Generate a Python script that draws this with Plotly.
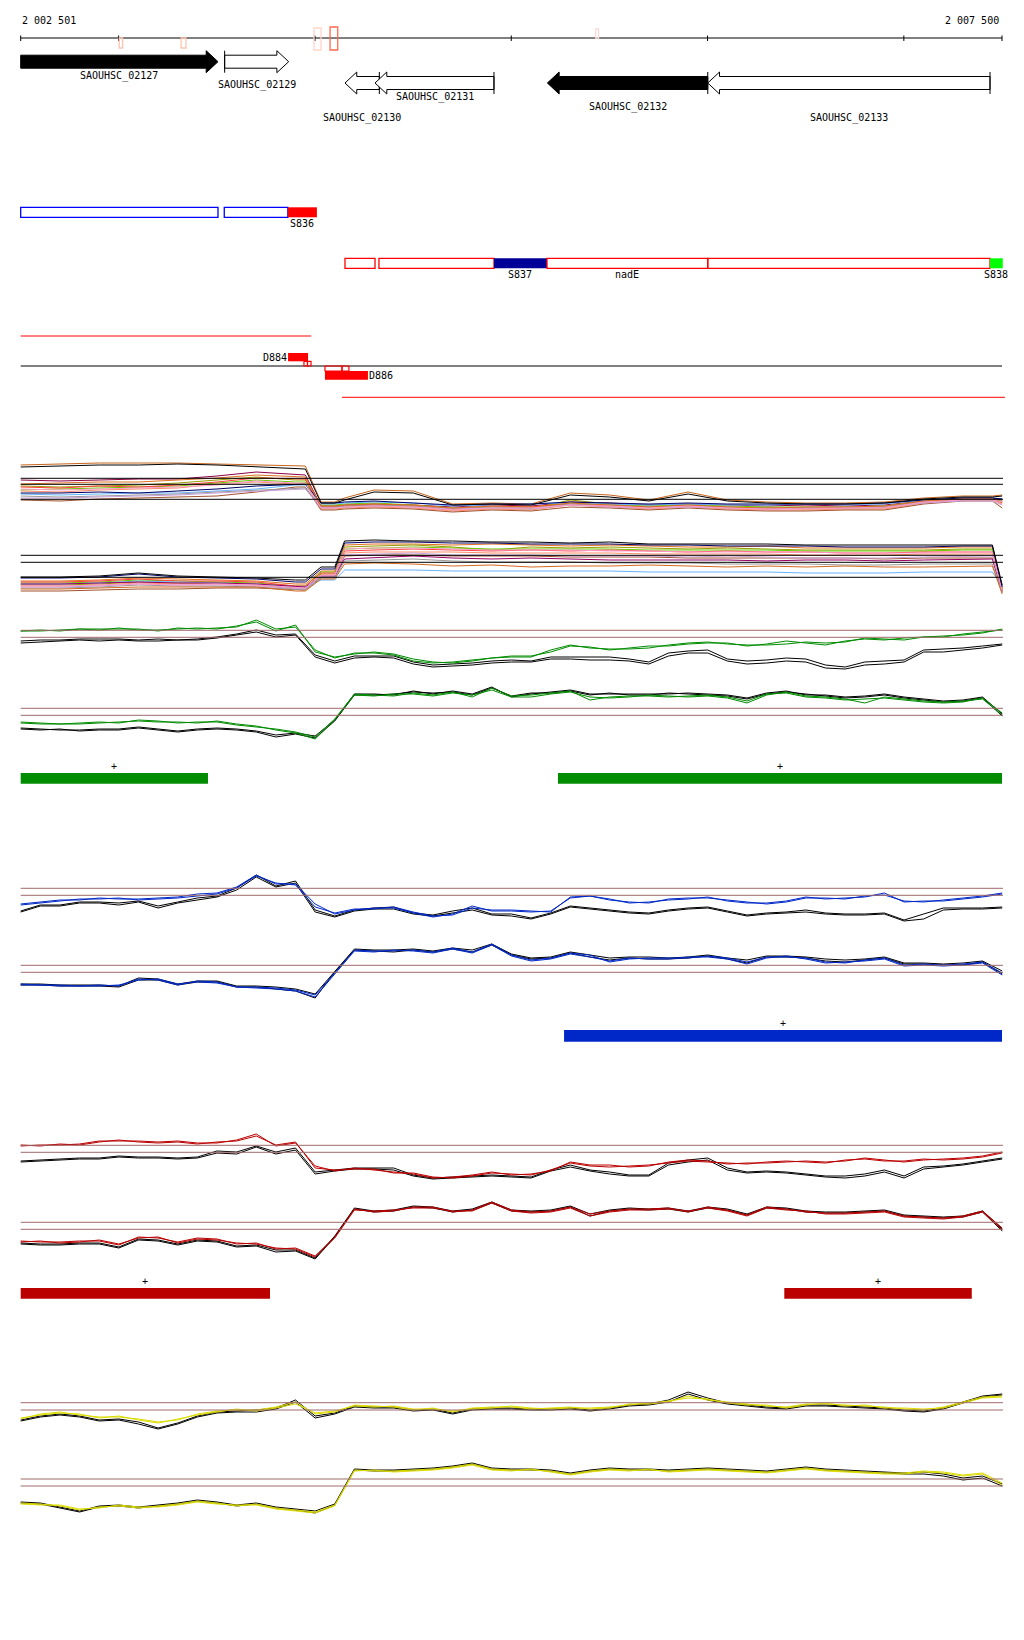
import plotly.graph_objects as go

# ---------------- genome window ----------------
START, END = 2002501, 2007500
W, H = 1024, 1640          # page / reference size
OFF = 8                    # default page margin of the html body
FW, FH = W - 2 * OFF, H - 2 * OFF
PX0, PX1 = 20.7, 1002.0
SCALE = (PX1 - PX0) / (END - START)
X_RANGE = [START - (PX0 - OFF) / SCALE, END + (OFF + FW - PX1) / SCALE]

RULER_TICKS = [2002501, 2003000, 2004000, 2005000, 2006000, 2007000, 2007500]
RULER_LABELS = ["2 002 501", "2 007 500"]
MARK_START = [2003003, 2003318, 2003995, 2004077, 2005430]
MARK_END = [2003020, 2003343, 2004031, 2004116, 2005445]

# ---------------- genes ----------------
GENE_NAMES = ["SAOUHSC_02127", "SAOUHSC_02129", "SAOUHSC_02130",
              "SAOUHSC_02131", "SAOUHSC_02132", "SAOUHSC_02133"]
GENE_START = [2002501, 2003540, 2004153, 2004306, 2005184, 2006001]
GENE_END = [2003506, 2003866, 2004328, 2004912, 2006001, 2007439]
GENE_STRAND = ["+", "+", "-", "-", "-", "-"]

# ---------------- segments ----------------
SEG_START = [2002501, 2003538, 2003862, 2004153, 2004326, 2004912, 2005182, 2006001, 2007439]
SEG_END = [2003506, 2003862, 2004010, 2004306, 2004912, 2005182, 2006001, 2007439, 2007504]
SEG_NAME = ["", "", "S836", "", "", "S837", "nadE", "", "S838"]

D_START = [2003863, 2004051]
D_END = [2003965, 2004270]
D_NAME = ["D884", "D886"]

# ---------------- probe grids ----------------
POS100 = list(range(2002501, 2007502, 100))
POS_MC = [2002501, 2002701, 2002901, 2003101, 2003301, 2003501, 2003701, 2003901,
          2003951, 2004031, 2004101, 2004151,
          2004301, 2004501, 2004701, 2004901, 2005101, 2005301, 2005501, 2005701,
          2005901, 2006101, 2006301, 2006501, 2006701, 2006901, 2007101, 2007301,
          2007451, 2007501]

# ---------------- multi-colour panel ----------------
MC_TOP = [
    [55,56,57,57,57,56,55,54,54,18,18,22,30,29,16,17,16,27,25,20,28,20,18,17,17,18,22,24,24,25],
    [40,39,40,41,41,44,48,45,45,14,14,15,16,15,13,15,14,18,17,15,16,15,14,15,14,15,19,22,22,20],
    [34,33,34,35,37,40,43,40,40,12,12,13,14,13,10,12,11,20,16,13,15,13,12,11,12,12,18,20,20,18],
    [30,31,32,33,34,37,40,38,38,15,15,16,17,15,12,13,12,17,15,14,15,14,13,13,13,14,19,21,21,19],
    [33,32,34,33,35,38,42,41,41,13,13,14,15,14,11,14,13,16,14,12,14,12,11,12,12,13,18,21,21,17],
    [29,28,30,31,32,36,38,36,36,11,11,12,13,12,9,11,10,15,13,11,13,11,10,10,11,11,17,20,20,16],
    [20,19,21,22,23,24,28,33,33,10,10,11,12,11,8,10,9,13,12,10,12,10,9,9,10,10,16,19,19,12],
    [26,25,26,27,27,29,31,35,35,16,16,17,18,17,14,15,16,17,16,15,16,15,15,16,15,16,20,22,22,21],
    [27,27,28,27,29,31,34,36,36,17,17,18,19,17,15,16,16,18,17,16,17,16,16,16,16,17,20,22,22,21],
    [24,23,24,25,26,28,30,32,32,13,13,14,15,14,12,13,12,16,15,13,14,13,12,13,13,14,18,20,20,19],
    [22,22,23,24,25,27,29,31,31,12,12,13,14,13,11,12,11,15,13,12,13,12,11,12,12,13,17,19,19,15],
    [36,37,38,38,40,42,45,43,43,14,14,15,16,15,12,14,13,17,15,13,15,13,12,13,13,14,19,21,21,18],
    [31,30,31,32,33,35,39,37,37,12,12,13,14,13,10,12,12,15,14,12,14,12,11,11,12,12,18,20,20,18],
    [53,54,55,55,56,55,53,51,51,17,17,20,28,27,15,16,15,25,23,19,26,19,17,16,16,17,21,23,23,24],
]
MC_BOT = [
    [19,19,20,22,21,20,19,16,16,29,29,55,56,56,55,56,55,54,55,54,53,53,54,52,52,52,52,53,53,12],
    [15,15,16,18,17,17,16,12,12,26,26,53,54,55,53,50,53,52,53,52,51,52,51,50,50,50,50,51,51,10],
    [17,17,18,20,19,18,17,14,14,28,28,51,52,53,52,51,51,51,51,50,50,50,50,49,49,49,49,50,50,11],
    [18,18,19,21,19,19,18,14,14,27,27,49,50,51,50,49,50,49,50,49,48,49,48,48,47,47,48,48,48,11],
    [14,14,15,17,16,16,15,11,11,25,25,47,48,48,48,47,47,47,47,46,46,46,46,45,45,45,46,46,46,9],
    [9,9,10,11,11,12,12,10,10,23,23,44,45,45,44,44,44,43,43,43,42,42,42,42,42,41,42,42,42,8],
    [16,16,17,19,18,17,16,13,13,20,20,30,30,30,29,29,29,29,29,28,28,28,28,27,27,27,28,28,28,14],
    [16,16,17,18,17,17,16,13,13,24,24,41,42,44,42,41,42,41,40,40,40,40,39,40,40,39,40,41,41,9],
    [12,12,13,15,14,14,13,10,10,22,22,39,40,41,39,38,38,38,37,37,37,36,36,36,35,35,36,36,36,7],
    [13,13,14,16,15,15,14,11,11,24,24,45,46,47,45,45,45,44,44,44,43,44,43,42,42,42,43,44,44,9],
    [11,11,12,13,13,13,13,9,9,21,21,36,37,36,34,35,33,34,34,35,34,33,34,33,34,33,33,34,34,6],
    [14,14,15,16,15,16,15,12,12,25,25,51,52,52,51,50,50,50,49,49,48,48,48,48,47,47,47,48,48,10],
    [22,22,23,26,23,22,21,18,18,31,31,57,58,58,57,57,56,56,56,55,55,54,54,54,53,53,53,54,54,13],
    [23,23,24,27,24,23,22,20,20,33,33,59,60,59,59,58,58,57,58,56,56,56,56,55,55,55,55,55,55,15],
]
MC_TOP_THRESH = [41.7, 35.7, 20.7]
MC_BOT_THRESH = [44.7, 37.7, 22.7]

# ---------------- green panel ----------------
GREEN_TOP_C1 = [49,49,50,51,51,51,51,49,52,51,52,53,60,51,53,30,22,27,27,25,19,17,18,20,22,23,23,30,35,32,31,31,32,35,37,38,36,35,35,36,38,37,38,42,41,40,43,44,45,47,51]
GREEN_TOP_C2 = [49,50,49,51,50,52,50,50,51,52,51,54,58,49,55,28,23,26,28,26,21,18,17,19,22,24,24,28,34,33,30,32,34,34,36,37,37,34,36,39,37,35,39,41,40,42,43,43,46,48,50]
GREEN_TOP_K1 = [39,40,40,41,41,41,40,41,40,41,43,46,50,45,46,25,19,24,24,24,18,15,16,17,19,20,19,23,23,23,23,21,18,27,29,30,21,19,20,22,21,15,13,18,19,20,30,31,32,34,36]
GREEN_TOP_K2 = [37,38,39,40,39,40,39,39,40,40,42,45,48,43,45,23,17,22,23,22,16,13,14,15,17,18,18,21,21,20,20,19,16,24,27,27,19,16,17,19,18,12,11,15,16,18,28,28,30,32,35]
GREEN_BOT_C1 = [37,36,36,37,38,37,40,39,37,38,38,35,33,31,28,23,41,66,65,64,67,65,68,63,72,64,65,67,69,60,63,64,64,63,64,65,63,59,66,67,63,62,60,61,62,60,58,57,58,62,47]
GREEN_BOT_C2 = [38,37,36,36,37,38,39,38,38,37,39,36,34,30,27,21,40,65,64,66,66,64,67,65,70,63,63,66,68,63,62,63,65,64,63,64,62,57,65,68,64,63,61,57,63,61,59,58,59,61,45]
GREEN_BOT_K1 = [32,31,30,30,31,31,33,31,29,31,32,31,29,25,27,24,40,66,66,65,69,66,69,66,73,63,66,68,70,66,66,66,66,66,67,66,65,62,67,69,65,65,63,64,66,63,61,59,60,63,46]
GREEN_BOT_K2 = [31,30,31,29,30,30,32,30,28,30,31,30,28,23,26,22,39,65,65,66,68,67,68,65,72,64,67,67,69,65,67,65,65,67,66,65,64,61,66,68,66,64,62,63,65,62,60,58,59,62,44]
GREEN_THRESH_TOP = [49.7, 42.7]
GREEN_THRESH_BOT = [51.7, 44.7]
GREEN_BAR_START = [2002501, 2005238]
GREEN_BAR_END = [2003455, 2007500]

# ---------------- blue panel ----------------
BLUE_TOP_C1 = [36,38,40,40,42,41,41,42,43,46,47,53,65,56,56,36,26,30,32,32,27,23,26,34,29,29,28,29,42,44,41,37,38,40,41,43,39,37,37,39,43,41,42,43,47,38,39,39,41,43,46]
BLUE_TOP_C2 = [35,37,39,41,41,42,40,41,42,44,46,52,64,57,55,33,27,31,31,33,28,24,25,32,30,30,29,28,43,44,40,38,37,41,42,42,40,38,36,38,42,42,41,44,45,39,38,40,42,44,47]
BLUE_TOP_K1 = [29,35,35,38,38,37,39,34,38,42,44,52,65,54,59,30,24,30,32,33,27,25,29,32,26,26,22,27,34,32,30,28,27,30,32,33,29,25,27,28,30,27,26,26,27,20,26,32,32,32,33]
BLUE_TOP_K2 = [28,34,34,37,37,35,38,32,37,40,43,50,63,53,57,28,23,29,31,31,26,24,27,30,25,24,21,26,33,31,29,27,26,29,31,32,28,24,26,27,28,26,25,25,26,19,21,30,31,31,32]
BLUE_BOT_C1 = [36,35,35,34,35,34,41,40,35,39,38,33,33,32,30,25,47,70,69,69,70,68,72,68,76,65,60,62,67,65,58,61,62,62,62,64,62,58,63,63,62,58,57,60,62,55,56,55,56,58,47]
BLUE_BOT_C2 = [35,35,34,34,34,35,40,41,36,38,37,33,32,31,29,23,46,69,68,70,69,67,71,67,75,64,59,61,66,63,59,62,61,61,63,63,61,56,62,64,61,57,58,59,61,54,55,54,55,57,45]
BLUE_BOT_K1 = [36,36,35,35,35,34,42,41,36,39,39,34,34,33,31,26,49,71,70,70,71,69,72,70,76,66,62,63,68,65,62,63,63,62,63,65,62,60,64,64,63,61,60,61,63,57,57,56,57,59,49]
BLUE_BOT_K2 = [35,35,34,34,34,33,40,40,35,38,38,33,33,31,29,22,48,70,69,68,70,68,71,68,75,65,61,62,67,63,60,62,61,61,62,64,61,57,63,63,62,59,58,60,62,56,56,55,55,58,46]
BLUE_THRESH_TOP = [51.7, 44.7]
BLUE_THRESH_BOT = [54.7, 47.7]
BLUE_BAR_START = [2005269]
BLUE_BAR_END = [2007500]

# ---------------- red panel ----------------
RED_TOP_C1 = [54,55,55,56,59,59,59,58,59,57,57,60,66,54,57,34,29,32,30,28,26,22,23,25,28,25,26,29,38,35,35,33,34,38,40,39,36,37,37,38,39,38,39,42,40,38,40,41,42,44,48]
RED_TOP_C2 = [55,54,56,55,58,60,58,57,58,56,58,59,64,55,58,32,30,31,31,27,27,23,22,24,27,26,25,30,37,34,33,34,35,37,39,38,37,36,38,39,38,37,40,41,39,39,41,40,41,43,47]
RED_TOP_K1 = [39,40,41,42,42,44,43,43,42,43,49,48,54,48,52,28,30,32,32,32,25,22,23,24,25,24,23,30,35,30,28,25,25,37,40,42,32,28,29,28,26,24,24,26,30,24,33,34,36,39,42]
RED_TOP_K2 = [38,39,40,41,41,43,42,42,41,42,47,46,53,46,50,26,29,31,31,30,24,21,22,23,24,23,22,29,33,29,26,24,24,35,38,40,30,27,28,27,25,23,22,24,28,22,31,33,35,38,41]
RED_BOT_C1 = [39,38,38,39,39,35,43,42,38,42,41,36,37,31,32,24,43,71,68,69,73,73,68,70,78,70,68,69,73,66,69,71,71,72,68,73,70,65,73,71,68,67,67,68,69,64,63,62,64,69,52]
RED_BOT_C2 = [38,39,37,38,40,36,42,43,37,41,40,37,36,32,31,23,42,70,69,70,72,72,69,69,77,69,67,68,72,64,68,70,70,71,69,72,69,64,72,70,69,66,66,67,68,63,62,61,63,68,50]
RED_BOT_K1 = [37,36,36,37,37,33,41,40,36,40,39,34,35,30,30,22,44,72,69,70,74,73,69,71,78,70,69,70,74,66,70,72,71,72,69,73,71,66,73,72,69,68,68,69,70,65,64,63,64,69,51]
RED_BOT_K2 = [36,35,35,36,36,32,40,39,35,39,38,33,34,28,29,21,43,71,68,69,73,72,68,70,77,69,68,69,73,64,69,71,70,71,68,72,70,65,72,71,68,67,67,68,69,64,63,62,63,68,49]
RED_THRESH_TOP = [54.7, 47.7]
RED_THRESH_BOT = [57.7, 50.7]
RED_BAR_START = [2002501, 2006391]
RED_BAR_END = [2003771, 2007346]

# ---------------- yellow panel ----------------
YEL_TOP_C1 = [41,46,48,45,43,43,41,38,40,46,49,50,50,53,58,46,48,55,54,53,50,52,48,52,53,53,51,52,53,51,52,56,56,58,64,60,58,56,54,53,56,56,55,54,53,51,50,53,58,63,64]
YEL_TOP_C2 = [42,45,47,46,42,44,40,37,41,45,48,51,49,52,56,47,49,54,53,54,51,51,49,51,52,54,52,51,52,52,53,55,57,59,62,61,57,55,55,52,55,57,54,55,52,52,51,52,57,62,63]
YEL_TOP_K1 = [40,44,46,44,40,41,38,32,37,44,48,49,50,52,60,44,47,54,53,53,50,51,47,51,52,52,51,51,52,50,52,55,56,60,68,62,57,55,53,52,55,55,54,53,52,50,49,52,58,64,66]
YEL_TOP_K2 = [39,43,45,43,39,40,36,31,36,43,47,48,48,51,58,42,46,53,52,52,49,50,46,50,51,51,50,50,51,49,51,54,55,58,66,60,56,54,52,51,54,54,53,52,51,49,48,51,57,63,65]
YEL_BOT_C1 = [37,36,34,30,33,34,32,34,36,39,37,34,36,32,30,28,35,70,69,69,70,71,73,76,71,70,70,69,66,69,71,70,70,69,70,71,70,69,68,70,72,70,69,68,67,67,69,68,65,67,57]
YEL_BOT_C2 = [36,35,35,31,32,35,33,33,35,38,36,35,35,31,29,27,34,69,70,68,69,70,72,75,70,69,71,68,65,68,70,69,71,68,69,70,69,68,67,69,71,69,68,67,66,66,68,67,64,66,55]
YEL_BOT_K1 = [38,37,33,29,34,35,33,35,37,40,38,35,37,33,31,29,36,71,70,70,71,72,74,77,72,71,71,70,67,70,72,71,71,70,71,72,71,70,69,71,73,71,70,69,68,67,68,66,62,64,56]
YEL_BOT_K2 = [37,36,32,28,33,34,32,34,36,39,37,34,36,32,30,27,35,70,69,69,70,71,73,76,71,70,70,69,66,69,71,70,70,69,70,71,70,69,68,70,72,70,69,68,67,66,66,64,60,62,54]
YEL_THRESH_TOP = [57.3, 50.0]
YEL_THRESH_BOT = [61.0, 54.0]

# =============== styling / layout (not data) ===============
FONT = dict(family="DejaVu Sans Mono", size=10, color="black")
BROWN = "#A06A6A"
MC_TOP_COLORS = ["#C8651B", "#8B0045", "#9A9A00", "#66CC00", "#FF4040", "#FF8C69", "#A0522D",
                 "#66B2FF", "#000066", "#999999", "#C9A0DC", "#E07020", "#FF99CC", "#000000"]
MC_BOT_COLORS = ["#E07020", "#9A9A00", "#66CC00", "#FF4040", "#FF8C69", "#A0522D", "#66B2FF",
                 "#990066", "#999999", "#C9A0DC", "#D2691E", "#FF99CC", "#000066", "#000000"]

fig = go.Figure()
shapes, annots = [], []
layout_axes = {}


def band_axis(name, top, bottom):
    layout_axes[name] = dict(domain=[1 - (bottom - OFF) / FH, 1 - (top - OFF) / FH], range=[0, 80],
                             visible=False, anchor="x", fixedrange=True)


def line_trace(xs, ys, color, yax):
    fig.add_trace(go.Scatter(x=xs, y=ys, mode="lines", line=dict(color=color, width=1),
                             xaxis="x", yaxis=yax, hoverinfo="skip", showlegend=False))


def hline(yref, v, color, x0=START, x1=END + 5):
    shapes.append(dict(type="line", xref="x", yref=yref, x0=x0, x1=x1, y0=v, y1=v,
                       line=dict(color=color, width=1)))


def rect(x0, x1, y0, y1, line_color=None, fill=None, lw=1):
    shapes.append(dict(type="rect", xref="x", yref="y", x0=x0, x1=x1, y0=y0, y1=y1,
                       line=dict(color=line_color or "rgba(0,0,0,0)", width=lw if line_color else 0),
                       fillcolor=fill or "rgba(0,0,0,0)"))


def text(x, y, s, xanchor="center"):
    annots.append(dict(x=x, y=y, xref="x", yref="y", text=s, showarrow=False, font=FONT,
                       xanchor=xanchor, yanchor="middle", borderpad=0))


fig.add_trace(go.Scatter(x=[START], y=[0], mode="markers", marker=dict(opacity=0),
                         xaxis="x", yaxis="y", hoverinfo="skip", showlegend=False))

# ---- ruler ----
shapes.append(dict(type="line", xref="x", yref="y", x0=START, x1=END, y0=38, y1=38,
                   line=dict(color="black", width=1)))
for t in RULER_TICKS:
    shapes.append(dict(type="line", xref="x", yref="y", x0=t, x1=t, y0=35.5, y1=41,
                       line=dict(color="black", width=1)))
text(START, 20, RULER_LABELS[0], "left")
text(END - 10, 20, RULER_LABELS[1], "right")
MARK_Y = [(38, 48), (38, 48), (28, 50), (27, 50), (29, 38)]
MARK_COLOR = ["#FFC4B0", "#FFC4B0", "#FFD6C8", "#FF6A4D", "#FFDADA"]
for s, e, (y0, y1), c in zip(MARK_START, MARK_END, MARK_Y, MARK_COLOR):
    rect(s, e, y0, y1, line_color=c, lw=1.3)

# ---- genes ----
GENE_FILLED = [True, False, False, False, True, False]
GENE_ROW_Y = [61.7, 61.7, 83, 83, 83, 83]
GENE_LABEL_Y = [76, 85, 117.7, 97.3, 106.7, 117.7]
GENE_BAR = [False, True, True, True, True, True]
HEAD_BP = 60
for name, s, e, st, filled, yc, ly, bar in zip(GENE_NAMES, GENE_START, GENE_END, GENE_STRAND,
                                               GENE_FILLED, GENE_ROW_Y, GENE_LABEL_Y, GENE_BAR):
    yt, yb, ht, hb = yc - 6.5, yc + 6.5, yc - 11, yc + 11
    if st == "+":
        hx = e - HEAD_BP
        pts = [(s, yt), (hx, yt), (hx, ht), (e, yc), (hx, hb), (hx, yb), (s, yb)]
        bx = s
    else:
        hx = s + HEAD_BP
        pts = [(e, yt), (hx, yt), (hx, ht), (s, yc), (hx, hb), (hx, yb), (e, yb)]
        bx = e
    path = "M " + " L ".join(f"{x},{y}" for x, y in pts) + " Z"
    shapes.append(dict(type="path", xref="x", yref="y", path=path,
                       fillcolor="black" if filled else "white",
                       line=dict(color="black", width=1)))
    if bar:
        shapes.append(dict(type="line", xref="x", yref="y", x0=bx, x1=bx, y0=ht, y1=hb,
                           line=dict(color="black", width=1)))
    text((s + e) / 2, ly, name)

# ---- segments ----
SEG_ROW_Y = [(207.3, 217.3)] * 3 + [(258.3, 268.3)] * 6
SEG_LINE = ["#0000FF", "#0000FF", None, "#FF0000", "#FF0000", None, "#FF0000", "#FF0000", None]
SEG_FILL = [None, None, "#FF0000", None, None, "#000099", None, None, "#00FF00"]
for s, e, nm, (y0, y1), lc, fc in zip(SEG_START, SEG_END, SEG_NAME, SEG_ROW_Y, SEG_LINE, SEG_FILL):
    rect(s, e, y0, y1, line_color=lc, fill=fc, lw=1.3)
    if nm:
        text((s + e) / 2, y1 + 6.5, nm)

# ---- transcripts / D features ----
hline("y", 336, "#FF0000", 2002501, 2003981)
hline("y", 366, "black", START, END)
hline("y", 397.3, "#FF0000", 2004138, 2007515)
D_Y = [(353, 361.3), (371, 379.7)]
for s, e, nm, (y0, y1), anc in zip(D_START, D_END, D_NAME, D_Y, ["right", "left"]):
    rect(s, e, y0, y1, fill="#FF0000")
    text(s - 2 if anc == "right" else e + 2, (y0 + y1) / 2 + 0.5, nm, anc)
for s, e, y0, y1 in [(2003944, 2003962, 361.3, 366), (2003962, 2003980, 361.3, 366),
                     (2004051, 2004138, 366, 371), (2004138, 2004173, 366, 371)]:
    rect(s, e, y0, y1, line_color="#FF0000", lw=1.2)

# ---- multicolour panel ----
band_axis("yaxis2", 440, 520)
band_axis("yaxis3", 520, 600)
for v in MC_TOP_THRESH:
    hline("y2", v, "black")
for v in MC_BOT_THRESH:
    hline("y3", v, "black")
for vals, c in zip(MC_TOP, MC_TOP_COLORS):
    line_trace(POS_MC, vals, c, "y2")
for vals, c in zip(MC_BOT, MC_BOT_COLORS):
    line_trace(POS_MC, vals, c, "y3")

# ---- coloured panels ----
PANELS = [
    ("#008C00", (600, 680, 680, 760), GREEN_THRESH_TOP, GREEN_THRESH_BOT,
     [GREEN_TOP_C1, GREEN_TOP_C2], [GREEN_TOP_K1, GREEN_TOP_K2],
     [GREEN_BOT_C1, GREEN_BOT_C2], [GREEN_BOT_K1, GREEN_BOT_K2],
     GREEN_BAR_START, GREEN_BAR_END, 773, 783.7),
    ("#0028C8", (860, 940, 940, 1020), BLUE_THRESH_TOP, BLUE_THRESH_BOT,
     [BLUE_TOP_C1, BLUE_TOP_C2], [BLUE_TOP_K1, BLUE_TOP_K2],
     [BLUE_BOT_C1, BLUE_BOT_C2], [BLUE_BOT_K1, BLUE_BOT_K2],
     BLUE_BAR_START, BLUE_BAR_END, 1030, 1041.7),
    ("#BB0000", (1120, 1200, 1200, 1280), RED_THRESH_TOP, RED_THRESH_BOT,
     [RED_TOP_C1, RED_TOP_C2], [RED_TOP_K1, RED_TOP_K2],
     [RED_BOT_C1, RED_BOT_C2], [RED_BOT_K1, RED_BOT_K2],
     RED_BAR_START, RED_BAR_END, 1288, 1298.7),
    ("#DCDC00", (1380, 1460, 1460, 1540), YEL_THRESH_TOP, YEL_THRESH_BOT,
     [YEL_TOP_C1, YEL_TOP_C2], [YEL_TOP_K1, YEL_TOP_K2],
     [YEL_BOT_C1, YEL_BOT_C2], [YEL_BOT_K1, YEL_BOT_K2],
     [], [], 0, 0),
]
ax_i = 4
for (col, (t0, b0, t1, b1), thr_t, thr_b, ct, kt, cb, kb, bs, be, by0, by1) in PANELS:
    ya, yb = f"y{ax_i}", f"y{ax_i + 1}"
    band_axis(f"yaxis{ax_i}", t0, b0)
    band_axis(f"yaxis{ax_i + 1}", t1, b1)
    for v in thr_t:
        hline(ya, v, BROWN)
    for v in thr_b:
        hline(yb, v, BROWN)
    for vals in kt:
        line_trace(POS100, vals, "black", ya)
    for vals in ct:
        line_trace(POS100, vals, col, ya)
    for vals in kb:
        line_trace(POS100, vals, "black", yb)
    for vals in cb:
        line_trace(POS100, vals, col, yb)
    for s, e in zip(bs, be):
        rect(s, e, by0, by1, fill=col)
        text((s + e) / 2, by0 - 7, "+")
    ax_i += 2

fig.update_layout(
    width=FW, height=FH, margin=dict(l=0, r=0, t=0, b=0),
    paper_bgcolor="white", plot_bgcolor="rgba(0,0,0,0)",
    xaxis=dict(range=X_RANGE, domain=[0, 1], visible=False, anchor="y", fixedrange=True),
    yaxis=dict(range=[OFF + FH, OFF], domain=[0, 1], visible=False, anchor="x", fixedrange=True),
    shapes=shapes, annotations=annots, showlegend=False,
    **layout_axes,
)
fig.write_html("out.html")
